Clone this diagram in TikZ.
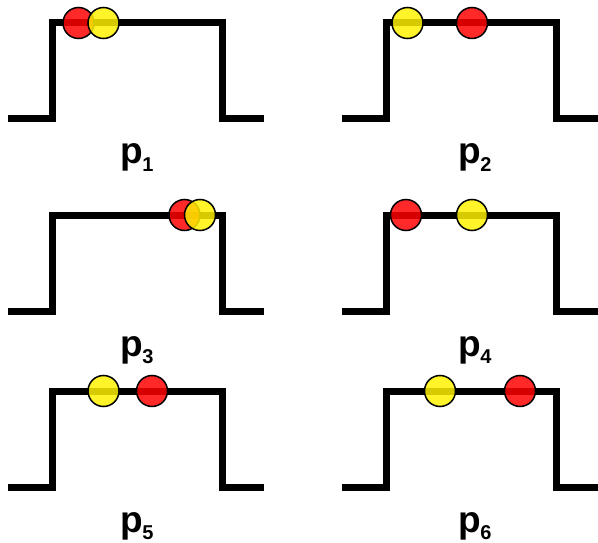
\documentclass[tikz,border=0pt]{standalone}
\usepackage{fontspec}
\setmainfont{Liberation Sans}
\begin{document}
\begin{tikzpicture}[x=1pt,y=-1pt,
  pulse/.style={line width=7pt, line join=miter},
  bead/.style={draw=black, line width=1.5pt, fill opacity=0.84},
  redbead/.style={bead, fill=red},
  yellowbead/.style={bead, fill=yellow},
  plabel/.style={anchor=base, inner sep=0pt, font=\bfseries}]
\useasboundingbox (0,0) rectangle (598,543);

% one rectangular pulse, shifted into place
\newcommand\pulseshape[2]{%
  \begin{scope}[shift={(#1,#2)}]
    \draw[pulse] (8,119) -- (52.5,119) -- (52.5,23) -- (222,23) -- (222,119) -- (264,119);
  \end{scope}}
\newcommand\plab[1]{{\fontsize{37}{40}\selectfont p\kern-0.5pt\raisebox{-7.5pt}{\fontsize{20}{22}\selectfont #1}}}

\pulseshape{0}{0}
\pulseshape{334}{0}
\pulseshape{0}{192}
\pulseshape{334}{192}
\pulseshape{0}{368}
\pulseshape{334}{368}

% beads on the pulses
\draw[redbead] (78.5,23) circle[radius=15.5];
\draw[yellowbead] (103.5,23) circle[radius=15.5];

\draw[yellowbead] (407.5,23) circle[radius=15.5];
\draw[redbead] (472,23) circle[radius=15.5];

\draw[redbead] (184.5,215) circle[radius=15.5];
\draw[yellowbead] (200,215) circle[radius=15.5];

\draw[redbead] (406,215) circle[radius=15.5];
\draw[yellowbead] (472,215) circle[radius=15.5];

\draw[yellowbead] (103.5,391) circle[radius=15.5];
\draw[redbead] (152,391) circle[radius=15.5];

\draw[yellowbead] (440,391) circle[radius=15.5];
\draw[redbead] (520,391) circle[radius=15.5];

% labels
\node[plabel] (l1) at (137,164) {\plab{1}};
\node[plabel] (l2) at (475,164) {\plab{2}};
\node[plabel] (l3) at (137,356) {\plab{3}};
\node[plabel] (l4) at (475,356) {\plab{4}};
\node[plabel] (l5) at (137,532) {\plab{5}};
\node[plabel] (l6) at (475,532) {\plab{6}};
\end{tikzpicture}
\end{document}
